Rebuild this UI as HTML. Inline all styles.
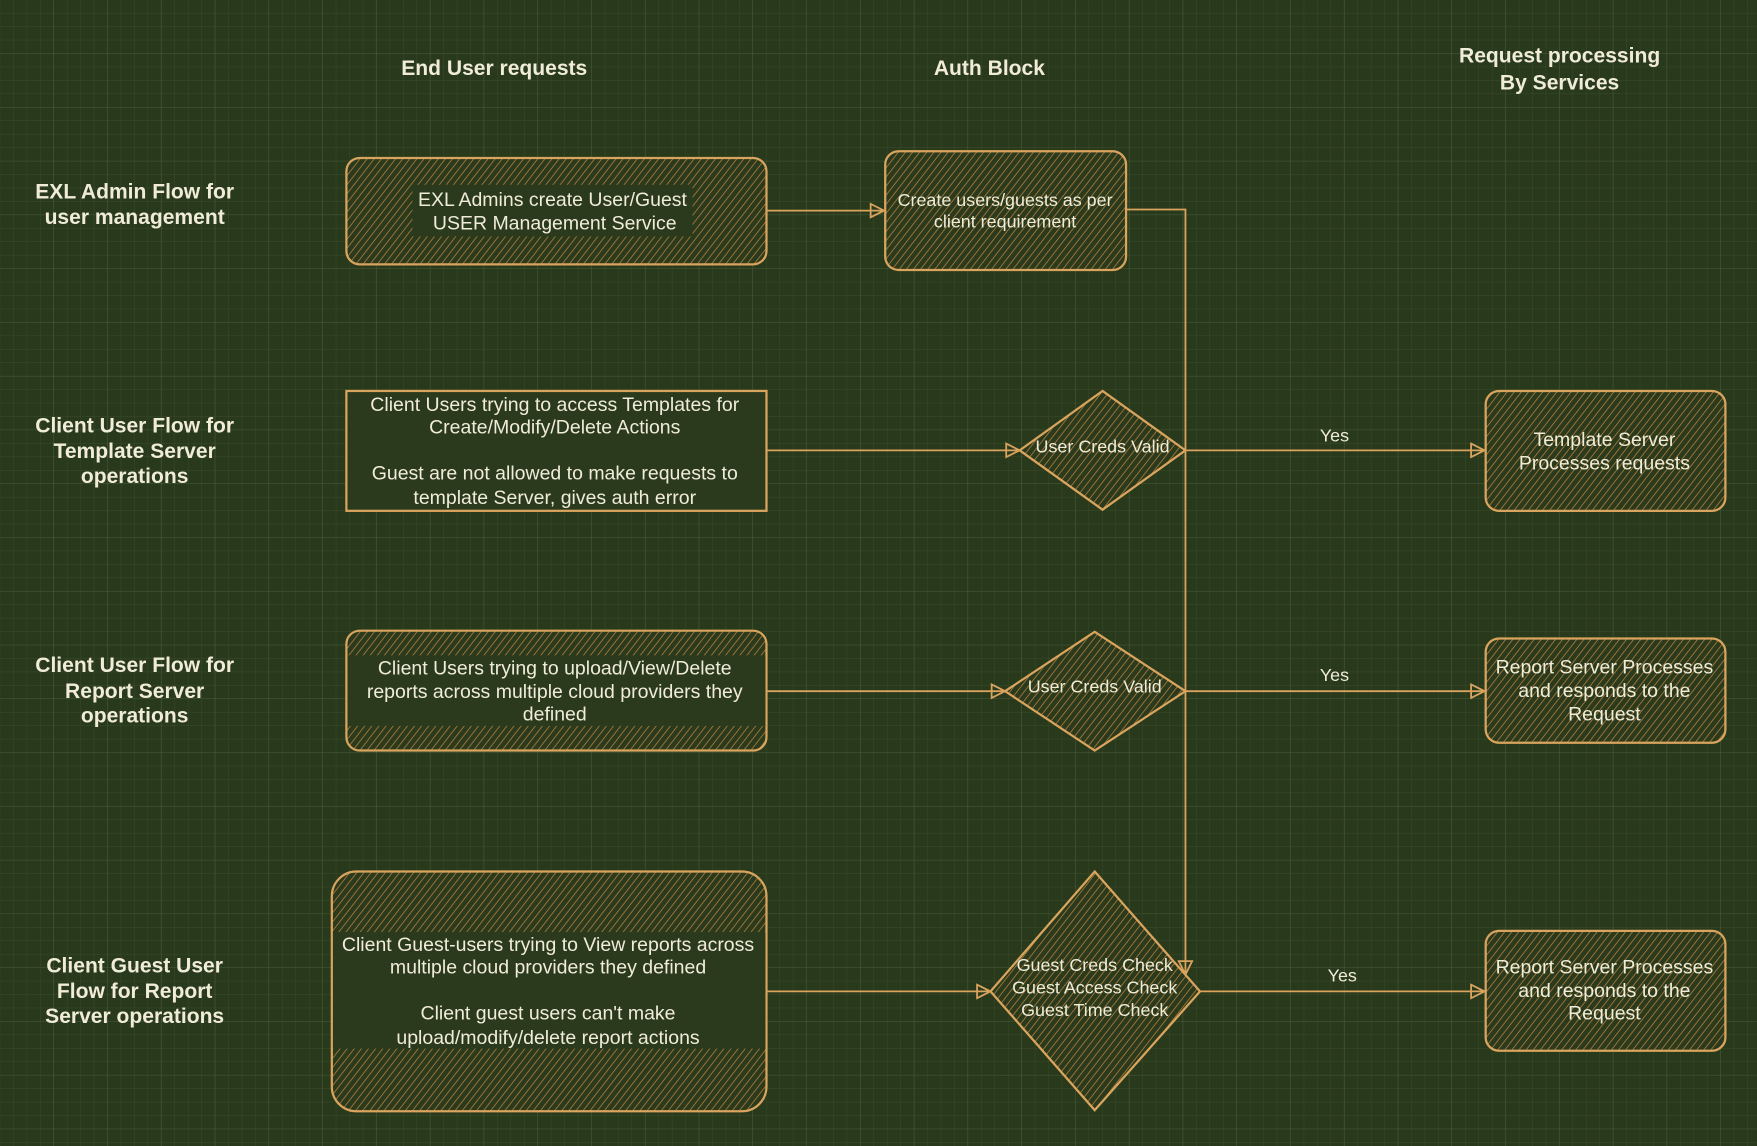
<!DOCTYPE html>
<html><head><meta charset="utf-8"><style>
html,body{margin:0;padding:0;background:#29391b;}
svg{display:block}
text{font-family:"Liberation Sans",Arial,sans-serif;fill:#f0ecd8}
.h{font-weight:bold;font-size:18.8px}
.t{font-size:17.4px}
.s{font-size:16px}
.sh{fill:url(#hatch);stroke:#d9a45e;stroke-width:2}
.ln{stroke:#d9a45e;stroke-width:1.6;fill:none}
.ar{fill:none;stroke:#d9a45e;stroke-width:1.6}
</style></head><body>
<svg width="1757" height="1146" viewBox="0 0 1568 1023" xmlns="http://www.w3.org/2000/svg">
<defs>
<pattern id="minor" width="12" height="12" patternUnits="userSpaceOnUse">
<path d="M12 0V12M0 12H12" stroke="#3a4b2b" stroke-width="0.8" fill="none"/>
</pattern>
<pattern id="major" width="48" height="48" patternUnits="userSpaceOnUse">
<rect width="48" height="48" fill="url(#minor)"/>
<path d="M48 0V48M0 48H48" stroke="#4a5d39" stroke-width="1" fill="none"/>
</pattern>
<pattern id="hatch" width="5" height="5" patternUnits="userSpaceOnUse" patternTransform="rotate(38)">
<rect width="5" height="5" fill="#2b3a1c"/>
<line x1="0" y1="0" x2="0" y2="5" stroke="#a87b3c" stroke-width="1.5"/>
</pattern>
</defs>
<rect width="1568" height="1023" fill="#29391b"/>
<rect width="1568" height="1023" fill="url(#major)"/>

<text class="h" x="441" y="67" text-anchor="middle">End User requests</text>
<text class="h" x="883" y="67" text-anchor="middle">Auth Block</text>
<text class="h" x="1392" y="56" text-anchor="middle">Request processing</text>
<text class="h" x="1392" y="80" text-anchor="middle">By Services</text>

<text class="h" x="120" y="177" text-anchor="middle">EXL Admin Flow for</text>
<text class="h" x="120" y="200" text-anchor="middle">user management</text>
<text class="h" x="120" y="386" text-anchor="middle">Client User Flow for</text>
<text class="h" x="120" y="409" text-anchor="middle">Template Server</text>
<text class="h" x="120" y="431" text-anchor="middle">operations</text>
<text class="h" x="120" y="600" text-anchor="middle">Client User Flow for</text>
<text class="h" x="120" y="623" text-anchor="middle">Report Server</text>
<text class="h" x="120" y="645" text-anchor="middle">operations</text>
<text class="h" x="120" y="868" text-anchor="middle">Client Guest User</text>
<text class="h" x="120" y="891" text-anchor="middle">Flow for Report</text>
<text class="h" x="120" y="913" text-anchor="middle">Server operations</text>

<path class="ln" d="M684 188H788"/><path class="ar" d="M777 182L789 188L777 194Z"/>
<path class="ln" d="M1005 187H1058V870"/><path class="ar" d="M1052 858L1058 870L1064 858Z"/>
<path class="ln" d="M684 402H910"/><path class="ar" d="M898 396L910 402L898 408Z"/>
<path class="ln" d="M1058 402H1325"/><path class="ar" d="M1313 396L1325 402L1313 408Z"/>
<path class="ln" d="M684 617H897"/><path class="ar" d="M885 611L897 617L885 623Z"/>
<path class="ln" d="M1058 617H1325"/><path class="ar" d="M1313 611L1325 617L1313 623Z"/>
<path class="ln" d="M670 885H884"/><path class="ar" d="M872 879L884 885L872 891Z"/>
<path class="ln" d="M1071 885H1325"/><path class="ar" d="M1313 879L1325 885L1313 891Z"/>
<text class="s" x="1191" y="394" text-anchor="middle">Yes</text>
<text class="s" x="1191" y="608" text-anchor="middle">Yes</text>
<text class="s" x="1198" y="876" text-anchor="middle">Yes</text>

<rect class="sh" x="309" y="141" width="375" height="95" rx="12"/>
<rect x="368" y="165" width="250" height="46" fill="#2b3a1c"/>
<text class="t" x="493" y="184" text-anchor="middle">EXL Admins create User/Guest</text>
<text class="t" x="495" y="205" text-anchor="middle">USER Management Service</text>
<rect class="sh" x="790" y="135" width="215" height="106" rx="12"/>
<text class="s" x="897" y="184" text-anchor="middle">Create users/guests as per</text>
<text class="s" x="897" y="203" text-anchor="middle">client requirement</text>

<rect x="309" y="349" width="375" height="107" fill="#2b3a1c" stroke="#d9a45e" stroke-width="2"/>
<text class="t" x="495" y="367" text-anchor="middle">Client Users trying to access Templates for</text>
<text class="t" x="495" y="387" text-anchor="middle">Create/Modify/Delete Actions</text>
<text class="t" x="495" y="428" text-anchor="middle">Guest are not allowed to make requests to</text>
<text class="t" x="495" y="450" text-anchor="middle">template Server, gives auth error</text>
<path class="sh" d="M984 349L1058 402L984 455L910 402Z"/>
<text class="s" x="984" y="404" text-anchor="middle">User Creds Valid</text>
<rect class="sh" x="1326" y="349" width="214" height="107" rx="12"/>
<text class="t" x="1432" y="398" text-anchor="middle">Template Server</text>
<text class="t" x="1432" y="419" text-anchor="middle">Processes requests</text>

<rect class="sh" x="309" y="563" width="375" height="107" rx="12"/>
<rect x="310" y="585" width="373" height="63" fill="#2b3a1c"/>
<text class="t" x="495" y="602" text-anchor="middle">Client Users trying to upload/View/Delete</text>
<text class="t" x="495" y="623" text-anchor="middle">reports across multiple cloud providers they</text>
<text class="t" x="495" y="643" text-anchor="middle">defined</text>
<path class="sh" d="M977 564L1058 617L977 670L897 617Z"/>
<text class="s" x="977" y="618" text-anchor="middle">User Creds Valid</text>
<rect class="sh" x="1326" y="570" width="214" height="93" rx="12"/>
<text class="t" x="1432" y="601" text-anchor="middle">Report Server Processes</text>
<text class="t" x="1432" y="622" text-anchor="middle">and responds to the</text>
<text class="t" x="1432" y="643" text-anchor="middle">Request</text>

<rect class="sh" x="296" y="778" width="388" height="214" rx="22"/>
<rect x="297" y="832" width="386" height="104" fill="#2b3a1c"/>
<text class="t" x="489" y="849" text-anchor="middle">Client Guest-users trying to View reports across</text>
<text class="t" x="489" y="869" text-anchor="middle">multiple cloud providers they defined</text>
<text class="t" x="489" y="910" text-anchor="middle">Client guest users can't make</text>
<text class="t" x="489" y="932" text-anchor="middle">upload/modify/delete report actions</text>
<path class="sh" d="M977 778L1071 885L977 991L884 885Z"/>
<text class="s" x="977" y="867" text-anchor="middle">Guest Creds Check</text>
<text class="s" x="977" y="887" text-anchor="middle">Guest Access Check</text>
<text class="s" x="977" y="907" text-anchor="middle">Guest Time Check</text>
<rect class="sh" x="1326" y="831" width="214" height="107" rx="12"/>
<text class="t" x="1432" y="869" text-anchor="middle">Report Server Processes</text>
<text class="t" x="1432" y="890" text-anchor="middle">and responds to the</text>
<text class="t" x="1432" y="910" text-anchor="middle">Request</text>
</svg>
</body></html>
